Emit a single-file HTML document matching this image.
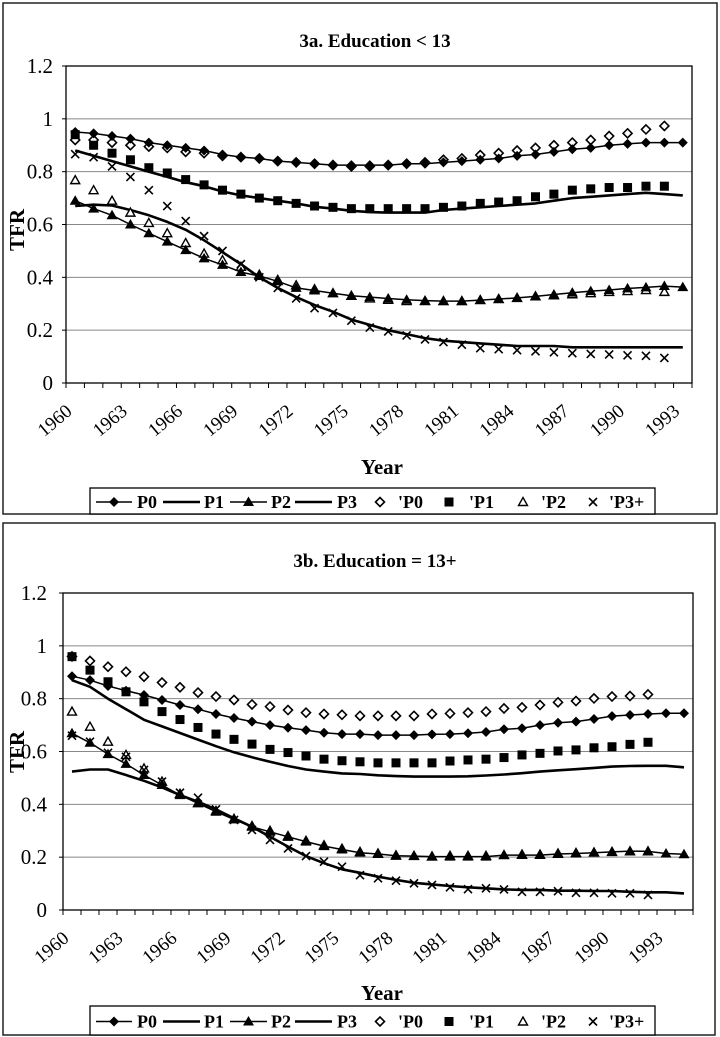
<!DOCTYPE html>
<html><head><meta charset="utf-8"><style>
html,body{margin:0;padding:0;background:#fff;}
svg{display:block;font-family:"Liberation Serif",serif;}
</style></head><body>
<svg id="chart" width="720" height="1037" viewBox="0 0 720 1037" xmlns="http://www.w3.org/2000/svg">
<rect x="0" y="0" width="720" height="1037" fill="#fff"/>
<g id="root"></g>
</svg>
<script>
const yearsA = [];
for (let y = 1960; y <= 1993; y++) yearsA.push(y);
const yearsB = [];
for (let y = 1960; y <= 1994; y++) yearsB.push(y);
const yTicks = [0, 0.2, 0.4, 0.6, 0.8, 1, 1.2];
const yTickLabels = ["0", "0.2", "0.4", "0.6", "0.8", "1", "1.2"];

const aP0 = [0.95,0.945,0.935,0.925,0.91,0.90,0.89,0.88,0.865,0.855,0.85,0.84,0.835,0.83,0.825,0.825,0.825,0.825,0.83,0.83,0.835,0.84,0.845,0.85,0.86,0.865,0.875,0.885,0.89,0.9,0.905,0.91,0.91,0.91];
const aP1 = [0.88,0.86,0.84,0.82,0.80,0.78,0.76,0.745,0.725,0.71,0.70,0.69,0.68,0.667,0.66,0.652,0.647,0.645,0.645,0.645,0.655,0.66,0.665,0.67,0.675,0.68,0.69,0.70,0.705,0.71,0.715,0.72,0.715,0.71];
const aP2 = [0.69,0.66,0.635,0.60,0.567,0.535,0.503,0.472,0.447,0.42,0.405,0.385,0.36,0.35,0.34,0.33,0.325,0.32,0.315,0.312,0.31,0.31,0.314,0.318,0.322,0.328,0.335,0.342,0.348,0.352,0.358,0.362,0.367,0.363];
const aP3 = [0.67,0.675,0.672,0.655,0.635,0.61,0.58,0.54,0.495,0.45,0.40,0.36,0.325,0.295,0.27,0.24,0.22,0.20,0.185,0.17,0.16,0.155,0.15,0.145,0.14,0.14,0.14,0.135,0.135,0.135,0.135,0.135,0.135,0.135];
const aQ0 = [0.92,0.92,0.91,0.90,0.895,0.89,0.875,0.87,0.86,0.855,0.85,0.84,0.835,0.83,0.825,0.82,0.82,0.825,0.83,0.835,0.845,0.85,0.863,0.87,0.88,0.89,0.90,0.91,0.92,0.935,0.945,0.96,0.973];
const aQ1 = [0.94,0.90,0.87,0.845,0.815,0.795,0.77,0.75,0.73,0.715,0.70,0.69,0.68,0.67,0.665,0.66,0.66,0.66,0.66,0.66,0.665,0.67,0.68,0.685,0.69,0.705,0.715,0.73,0.735,0.74,0.74,0.745,0.745];
const aQ2 = [0.768,0.73,0.69,0.645,0.606,0.567,0.53,0.49,0.465,0.44,0.41,0.39,0.37,0.355,0.34,0.33,0.32,0.315,0.31,0.31,0.31,0.31,0.314,0.318,0.322,0.328,0.332,0.336,0.34,0.345,0.348,0.352,0.345];
const aQ3 = [0.866,0.855,0.82,0.78,0.73,0.67,0.613,0.556,0.50,0.45,0.40,0.36,0.32,0.283,0.265,0.236,0.21,0.195,0.18,0.165,0.155,0.145,0.132,0.128,0.124,0.12,0.116,0.113,0.11,0.108,0.105,0.103,0.095];

const bP0 = [0.885,0.87,0.848,0.83,0.814,0.795,0.776,0.76,0.742,0.727,0.713,0.70,0.69,0.681,0.671,0.666,0.666,0.662,0.662,0.662,0.665,0.666,0.669,0.674,0.684,0.688,0.70,0.709,0.713,0.723,0.734,0.738,0.742,0.745,0.745];
const bP1 = [0.87,0.845,0.80,0.76,0.72,0.695,0.67,0.645,0.62,0.597,0.578,0.561,0.545,0.532,0.524,0.517,0.515,0.51,0.507,0.505,0.505,0.505,0.506,0.509,0.513,0.518,0.524,0.529,0.533,0.538,0.543,0.545,0.546,0.546,0.54];
const bP2 = [0.669,0.633,0.59,0.553,0.511,0.473,0.435,0.404,0.372,0.343,0.315,0.296,0.277,0.259,0.242,0.229,0.217,0.212,0.205,0.204,0.202,0.202,0.202,0.202,0.208,0.208,0.208,0.212,0.214,0.217,0.22,0.223,0.222,0.214,0.211];
const bP3 = [0.524,0.532,0.532,0.511,0.489,0.464,0.435,0.41,0.381,0.347,0.315,0.277,0.24,0.204,0.177,0.154,0.141,0.126,0.114,0.103,0.097,0.091,0.086,0.082,0.078,0.076,0.076,0.073,0.073,0.072,0.072,0.069,0.067,0.067,0.063];
const bQ0 = [0.96,0.943,0.921,0.902,0.883,0.861,0.843,0.823,0.808,0.795,0.778,0.77,0.757,0.747,0.742,0.739,0.735,0.735,0.735,0.735,0.742,0.744,0.747,0.751,0.763,0.767,0.776,0.786,0.791,0.801,0.808,0.81,0.816];
const bQ1 = [0.959,0.908,0.864,0.826,0.788,0.751,0.721,0.691,0.666,0.646,0.628,0.608,0.596,0.583,0.571,0.565,0.561,0.557,0.557,0.557,0.557,0.564,0.568,0.571,0.577,0.587,0.593,0.602,0.606,0.614,0.618,0.627,0.635];
const bQ2 = [0.751,0.694,0.637,0.587,0.536,0.486,0.44,0.405,0.375,0.345,0.318,0.30,0.28,0.262,0.245,0.232,0.22,0.214,0.207,0.205,0.203,0.205,0.205,0.205,0.208,0.21,0.21,0.214,0.216,0.218,0.22,0.222,0.222];
const bQ3 = [0.66,0.637,0.595,0.58,0.53,0.486,0.444,0.425,0.381,0.341,0.303,0.265,0.233,0.204,0.183,0.164,0.132,0.12,0.111,0.101,0.095,0.086,0.079,0.082,0.078,0.069,0.069,0.071,0.065,0.065,0.063,0.063,0.057];

const NS = "http://www.w3.org/2000/svg";
const root = document.getElementById("root");
function mk(tag, attrs, parent) {
  const e = document.createElementNS(NS, tag);
  for (const k in attrs) e.setAttribute(k, attrs[k]);
  (parent || root).appendChild(e);
  return e;
}
function marker(type, x, y, g) {
  let e;
  if (type === "dfill") e = mk("path", {d:`M${x},${y-5}L${x+5},${y}L${x},${y+5}L${x-5},${y}Z`, fill:"#000"}, g);
  else if (type === "dopen") e = mk("path", {d:`M${x},${y-4.5}L${x+4.5},${y}L${x},${y+4.5}L${x-4.5},${y}Z`, fill:"#fff", stroke:"#000", "stroke-width":1.6}, g);
  else if (type === "sq") e = mk("rect", {x:x-4.5, y:y-4.5, width:9, height:9, fill:"#000"}, g);
  else if (type === "tfill") e = mk("path", {d:`M${x},${y-5.5}L${x+5.5},${y+4}L${x-5.5},${y+4}Z`, fill:"#000"}, g);
  else if (type === "topen") e = mk("path", {d:`M${x},${y-4.5}L${x+4.5},${y+3.5}L${x-4.5},${y+3.5}Z`, fill:"#fff", stroke:"#000", "stroke-width":1.4}, g);
  else if (type === "x") e = mk("path", {d:`M${x-4},${y-4}L${x+4},${y+4}M${x+4},${y-4}L${x-4},${y+4}`, stroke:"#000", "stroke-width":1.6, fill:"none"}, g);
  return e;
}

function panel(cfg) {
  const g = mk("g", {});
  
  
  const fr = mk("rect", {x:cfg.fx, y:cfg.fy, width:cfg.fw, height:cfg.fh, fill:"none", stroke:"#222", "stroke-width":1.5}, g);
  
  
  const t = mk("text", {x:375, y:cfg.titleY, "text-anchor":"middle", "font-size":19, "font-weight":"bold"}, g);
  t.textContent = cfg.title;
  
  
  const n = cfg.cats.length;
  const w = (cfg.R - cfg.L) / n;
  const X = i => cfg.L + (i + 0.5) * w;
  const Y = v => cfg.B - v / 1.2 * (cfg.B - cfg.T);
  yTicks.forEach((v, i) => {
    if (v > 0) {
      const gl = mk("line", {x1:cfg.L, x2:cfg.R, y1:Y(v), y2:Y(v), stroke:"#888", "stroke-width":1}, g);
      
      
    }
    mk("line", {x1:cfg.L-4, x2:cfg.L, y1:Y(v), y2:Y(v), stroke:"#000", "stroke-width":1}, g);
    const tl = mk("text", {x:cfg.yLabX, y:Y(v)+7, "text-anchor":"end", "font-size":21}, g);
    tl.textContent = yTickLabels[i];
    
    
  });
  const pa = mk("rect", {x:cfg.L, y:cfg.T, width:cfg.R-cfg.L, height:cfg.B-cfg.T, fill:"none", stroke:"#000", "stroke-width":1.3}, g);
  
  
  for (let i = 0; i <= n; i++) mk("line", {x1:cfg.L+i*w, x2:cfg.L+i*w, y1:cfg.B, y2:cfg.B+5, stroke:"#000", "stroke-width":1}, g);
  for (let i = 0; i < n; i += 3) {
    const cx = X(i) - 2, cy = cfg.B + 30;
    const xl = mk("text", {x:cx, y:cy, "text-anchor":"end", "font-size":19, transform:`rotate(-40 ${cx} ${cy})`}, g);
    xl.textContent = cfg.cats[i];
    
    
  }
  const yl = mk("text", {x:24, y:cfg.tfrY, "text-anchor":"middle", "font-size":21, "font-weight":"bold", transform:`rotate(-90 24 ${cfg.tfrY})`}, g);
  yl.textContent = "TFR";
  
  
  const xt = mk("text", {x:382, y:cfg.B+cfg.yearOff, "text-anchor":"middle", "font-size":21, "font-weight":"bold"}, g);
  xt.textContent = "Year";
  
  

  const series = [
    {d:cfg.P3, line:2.6, m:null, name:"series-p3"},
    {d:cfg.P1, line:2.6, m:null, name:"series-p1"},
    {d:cfg.Q0, line:0, m:"dopen", name:"series-p0-observed"},
    {d:cfg.Q1, line:0, m:"sq", name:"series-p1-observed"},
    {d:cfg.Q2, line:0, m:"topen", name:"series-p2-observed"},
    {d:cfg.Q3, line:0, m:"x", name:"series-p3-observed"},
    {d:cfg.P0, line:1.5, m:"dfill", name:"series-p0"},
    {d:cfg.P2, line:1.5, m:"tfill", name:"series-p2"}
  ];
  series.forEach(s => {
    const sg = mk("g", {}, g);
    
    
    if (s.line) {
      const pts = s.d.map((v, i) => `${X(i).toFixed(1)},${Y(v).toFixed(1)}`).join(" ");
      mk("polyline", {points:pts, fill:"none", stroke:"#000", "stroke-width":s.line, "stroke-linejoin":"round"}, sg);
    }
    if (s.m) s.d.forEach((v, i) => {
      const mm = marker(s.m, X(i), Y(v), sg);
      
      
    });
  });

  const lg = mk("g", {}, g);
  
  
  const ly0 = cfg.legY, lh = cfg.legH, lcy = ly0 + lh/2 + 1;
  mk("rect", {x:90, y:ly0, width:565, height:lh, fill:"#fff", stroke:"#000", "stroke-width":1.3}, lg);
  const items = [
    {lx:[96,132], m:"dfill", tx:137, t:"P0"},
    {lx:[163,200], m:null, tx:204, t:"P1", thick:true},
    {lx:[230,267], m:"tfill", tx:271, t:"P2"},
    {lx:[295,332], m:null, tx:337, t:"P3", thick:true},
    {mx:380, m:"dopen", tx:398, t:"'P0"},
    {mx:449, m:"sq", tx:469, t:"'P1"},
    {mx:523, m:"topen", tx:541, t:"'P2"},
    {mx:593, m:"x", tx:609, t:"'P3+"}
  ];
  items.forEach(it => {
    const ig = mk("g", {}, lg);
    
    
    if (it.lx) {
      mk("line", {x1:it.lx[0], x2:it.lx[1], y1:lcy, y2:lcy, stroke:"#000", "stroke-width":it.thick?2.6:1.5}, ig);
      if (it.m) marker(it.m, (it.lx[0]+it.lx[1])/2, lcy, ig);
    } else marker(it.m, it.mx, lcy, ig);
    const tt = mk("text", {x:it.tx, y:lcy+6, "font-size":18, "font-weight":"bold"}, ig);
    tt.textContent = it.t;
  });
}

panel({name:"panel-3a", title:"3a. Education < 13", fx:3, fy:3, fw:714, fh:511, titleY:47,
  L:66, R:692, T:66, B:383, yLabX:53, tfrY:230, legY:488, legH:26, yearOff:91, cats:yearsA,
  P0:aP0, P1:aP1, P2:aP2, P3:aP3, Q0:aQ0, Q1:aQ1, Q2:aQ2, Q3:aQ3});
panel({name:"panel-3b", title:"3b. Education = 13+", fx:3, fy:523, fw:712, fh:512, titleY:567,
  L:63, R:693, T:593, B:910, yLabX:47, tfrY:752, legY:1006, legH:29, yearOff:90, cats:yearsB,
  P0:bP0, P1:bP1, P2:bP2, P3:bP3, Q0:bQ0, Q1:bQ1, Q2:bQ2, Q3:bQ3});
</script>
</body></html>
